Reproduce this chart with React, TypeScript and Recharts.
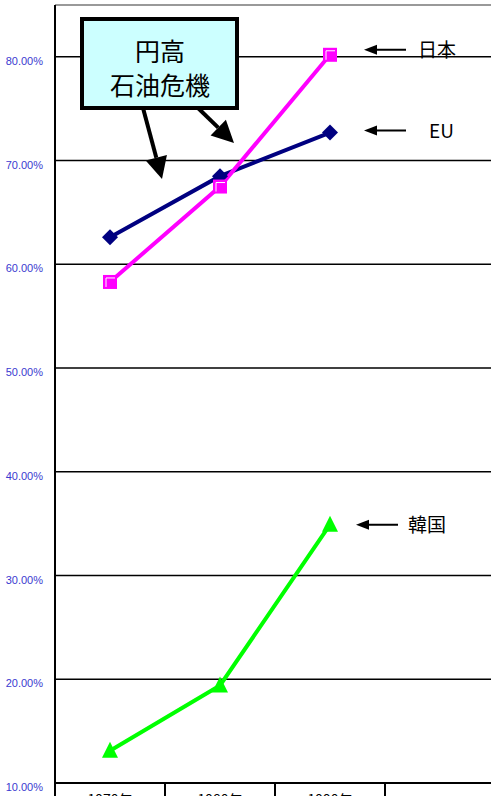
import { LineChart, Line, XAxis, YAxis, CartesianGrid, ReferenceLine, LabelList } from "recharts";

const years = ["1970年", "1980年", "1990年", ""];
const japan = [58.3, 67.5, 80.2, null];
const eu = [62.6, 68.5, 72.7, null];
const korea = [13.1, 19.4, 34.9, null];
const yTicks = [10, 20, 30, 40, 50, 60, 70, 80];

const data = years.map((year, i) => ({ year, japan: japan[i], eu: eu[i], korea: korea[i] }));

const W = 500;
const H = 830;
const LEFT = 55;
const RIGHT = 5;
const HALF_BAND = (W - LEFT - RIGHT) / years.length / 2;
const JP_FONT = "'Noto Sans CJK JP', 'Noto Sans', sans-serif";

function SquareDot({ cx, cy, value }: any) {
  if (value == null || cx == null) return null;
  return (
    <g>
      <rect x={cx - 7} y={cy - 7} width={14} height={14} fill="#ff00ff" />
      <polyline points={`${cx - 4},${cy + 5} ${cx - 4},${cy - 4} ${cx + 5},${cy - 4}`} fill="none" stroke="#fff" strokeWidth={1} />
    </g>
  );
}

function DiamondDot({ cx, cy, value }: any) {
  if (value == null || cx == null) return null;
  return <polygon points={`${cx},${cy - 8} ${cx + 8},${cy} ${cx},${cy + 8} ${cx - 8},${cy}`} fill="#000080" />;
}

function TriangleDot({ cx, cy, value }: any) {
  if (value == null || cx == null) return null;
  return <polygon points={`${cx},${cy - 9} ${cx + 8},${cy + 7} ${cx - 8},${cy + 7}`} fill="#00ff00" />;
}

function makeCallout(name: string, dx: number, dy: number, gap: number) {
  return (props: any) => {
    const { x, y, index } = props;
    if (index !== 2) return null;
    const ax = x + dx;
    const ay = y + dy;
    return (
      <g>
        <line x1={ax + 8} y1={ay} x2={ax + 42} y2={ay} stroke="#000" strokeWidth={2} />
        <polygon points={`${ax},${ay} ${ax + 13},${ay - 5} ${ax + 13},${ay + 5}`} fill="#000" />
        <text x={ax + 42 + gap} y={ay + 7} fontSize={19} fontFamily={JP_FONT} fill="#000">
          {name}
        </text>
      </g>
    );
  };
}

function YTick({ x, y, payload }: any) {
  return (
    <text x={x} y={y + 8} textAnchor="end" fontSize={11} fill="#3a3ad0" fontFamily="'Liberation Sans Narrow', 'Liberation Sans', Arial, sans-serif">
      {payload.value.toFixed(2)}%
    </text>
  );
}

function XTick({ x, y, payload }: any) {
  return (
    <g>
      <line x1={x - HALF_BAND} y1={y} x2={x - HALF_BAND} y2={y + 20} stroke="#000" strokeWidth={2} />
      <text x={x} y={y + 22} textAnchor="middle" fontSize={14} fontFamily={JP_FONT} fill="#000">
        {payload.value}
      </text>
    </g>
  );
}

function Arrow({ x1, y1, x2, y2 }: { x1: number; y1: number; x2: number; y2: number }) {
  const ang = Math.atan2(y2 - y1, x2 - x1);
  const len = 22;
  const wid = 11;
  const bx = x2 - len * Math.cos(ang);
  const by = y2 - len * Math.sin(ang);
  const px = -Math.sin(ang) * wid;
  const py = Math.cos(ang) * wid;
  return (
    <g>
      <line x1={x1} y1={y1} x2={bx} y2={by} stroke="#000" strokeWidth={4} />
      <polygon points={`${x2},${y2} ${bx + px},${by + py} ${bx - px},${by - py}`} fill="#000" />
    </g>
  );
}

export default function App() {
  return (
    <div style={{ position: "absolute", left: 0, top: 0, width: W, height: H, background: "#fff" }}>
      <LineChart width={W} height={H} data={data} margin={{ top: 5, right: RIGHT, bottom: 17, left: 0 }}>
        <CartesianGrid vertical={false} stroke="#000" strokeWidth={1.5} />
        <ReferenceLine y={85} stroke="#999" strokeWidth={2} />
        <XAxis
          dataKey="year"
          height={30}
          padding={{ left: HALF_BAND, right: HALF_BAND }}
          axisLine={{ stroke: "#000", strokeWidth: 2 }}
          tickLine={false}
          tickSize={0}
          tickMargin={0}
          interval={0}
          tick={<XTick />}
        />
        <YAxis
          width={LEFT}
          domain={[10, 85]}
          ticks={yTicks}
          allowDataOverflow
          axisLine={{ stroke: "#000", strokeWidth: 2 }}
          tickLine={false}
          tickSize={0}
          tickMargin={12}
          tick={<YTick />}
        />
        <Line dataKey="eu" stroke="#000080" strokeWidth={4} dot={<DiamondDot />} isAnimationActive={false}>
          <LabelList dataKey="eu" content={makeCallout("EU", 34, -2, 23)} />
        </Line>
        <Line dataKey="japan" stroke="#ff00ff" strokeWidth={4} dot={<SquareDot />} isAnimationActive={false}>
          <LabelList dataKey="japan" content={makeCallout("日本", 34, -5, 12)} />
        </Line>
        <Line dataKey="korea" stroke="#00ff00" strokeWidth={4} dot={<TriangleDot />} isAnimationActive={false}>
          <LabelList dataKey="korea" content={makeCallout("韓国", 26, 0, 10)} />
        </Line>
      </LineChart>
      <svg width={W} height={H} style={{ position: "absolute", left: 0, top: 0, pointerEvents: "none" }}>
        <Arrow x1={143} y1={108} x2={162} y2={179} />
        <Arrow x1={198} y1={108} x2={234} y2={143} />
        <rect x={82} y={19} width={155} height={89} fill="#ccffff" stroke="#000" strokeWidth={4} />
        <text x={160} y={61} textAnchor="middle" fontSize={25} fontFamily={JP_FONT} fill="#000">
          円高
        </text>
        <text x={160} y={95} textAnchor="middle" fontSize={25} fontFamily={JP_FONT} fill="#000">
          石油危機
        </text>
      </svg>
    </div>
  );
}
